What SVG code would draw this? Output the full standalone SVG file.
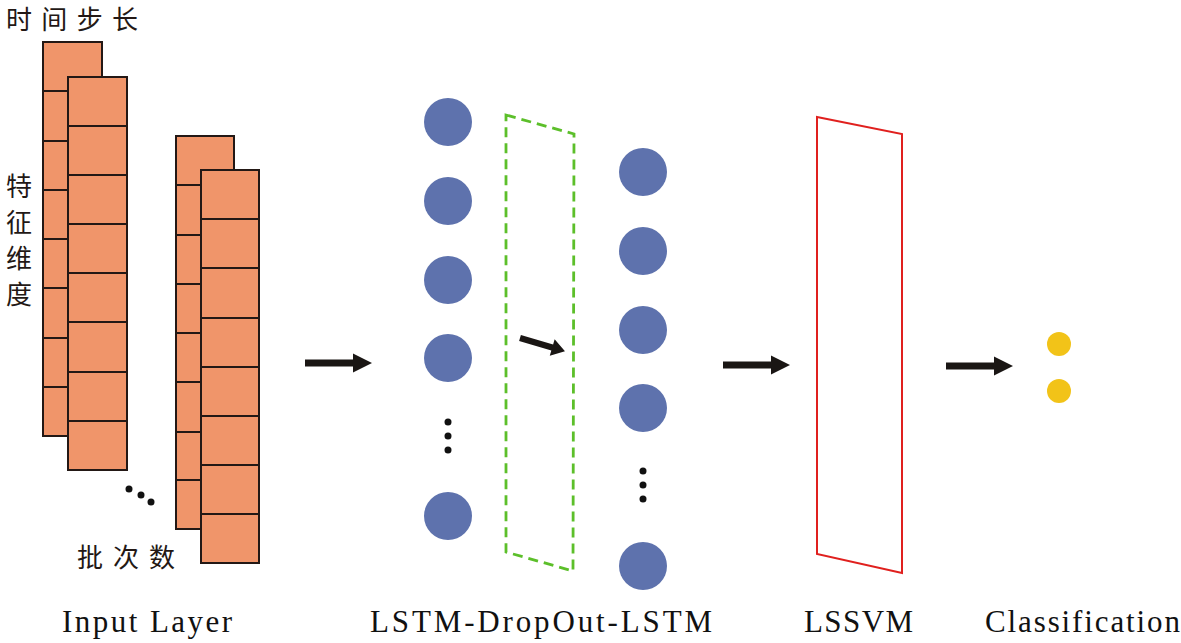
<svg xmlns="http://www.w3.org/2000/svg" width="1181" height="643" viewBox="0 0 1181 643">
<defs>
<style>
.cell{fill:#f0956a;stroke:#231815;stroke-width:2}
.line{stroke:#231815;stroke-width:2}
.neuron{fill:#5e72ad}
.dot{fill:#111}
.out{fill:#f2c318}
.cjk{font-family:"Noto Sans CJK SC",sans-serif;font-size:26px;fill:#231815}
.lbl{font-family:"Liberation Serif",serif;font-size:31px;fill:#111}
.arrow{fill:#1a1614}
</style>
<path id="arr" d="M0,-3.5 H48 V-9.5 L67,0 L48,9.5 V3.5 H0 Z"/>
</defs>
<rect width="1181" height="643" fill="#fff"/>

<g id="input-layer">
  <g id="stack1-back">
    <rect class="cell" x="43" y="42" width="59" height="394"/>
    <path class="line" d="M43,91H102M43,141H102M43,190H102M43,239H102M43,288H102M43,338H102M43,387H102"/>
  </g>
  <g id="stack1-front">
    <rect class="cell" x="68" y="77" width="59" height="393"/>
    <path class="line" d="M68,126H127M68,175H127M68,224H127M68,273H127M68,322H127M68,372H127M68,421H127"/>
  </g>
  <g id="stack2-back">
    <rect class="cell" x="176" y="136" width="58" height="393"/>
    <path class="line" d="M176,185H234M176,235H234M176,284H234M176,333H234M176,382H234M176,432H234M176,480H234"/>
  </g>
  <g id="stack2-front">
    <rect class="cell" x="201" y="170" width="58" height="393"/>
    <path class="line" d="M201,219H259M201,268H259M201,318H259M201,367H259M201,416H259M201,465H259M201,514H259"/>
  </g>
  <g id="batch-dots">
    <circle class="dot" cx="129" cy="489" r="3.5"/>
    <circle class="dot" cx="141" cy="495" r="3.5"/>
    <circle class="dot" cx="151" cy="502" r="3.5"/>
  </g>
  <text class="cjk" x="6" y="29" textLength="132" lengthAdjust="spacing">时间步长</text>
  <text class="cjk" x="19" y="173" style="writing-mode:vertical-rl;letter-spacing:10px">特征维度</text>
  <text class="cjk" x="77" y="567" font-size="27" textLength="98" lengthAdjust="spacing">批次数</text>
  <text class="lbl" x="62" y="632" textLength="170" lengthAdjust="spacing">Input Layer</text>
</g>

<g id="lstm1">
  <circle class="neuron" cx="448" cy="122" r="24"/>
  <circle class="neuron" cx="448" cy="201" r="24"/>
  <circle class="neuron" cx="448" cy="280" r="24"/>
  <circle class="neuron" cx="448" cy="358" r="24"/>
  <circle class="dot" cx="448" cy="422" r="3.5"/>
  <circle class="dot" cx="448" cy="436" r="3.5"/>
  <circle class="dot" cx="448" cy="450" r="3.5"/>
  <circle class="neuron" cx="448" cy="516" r="24"/>
</g>

<g id="dropout">
  <polygon points="506,115 574,134 573,571 506,552" fill="none" stroke="#5cbf2a" stroke-width="2.8" stroke-dasharray="10,6"/>
</g>

<g id="lstm2">
  <circle class="neuron" cx="643" cy="172" r="24"/>
  <circle class="neuron" cx="643" cy="251" r="24"/>
  <circle class="neuron" cx="643" cy="330" r="24"/>
  <circle class="neuron" cx="643" cy="408" r="24"/>
  <circle class="dot" cx="643" cy="471" r="3.5"/>
  <circle class="dot" cx="643" cy="485" r="3.5"/>
  <circle class="dot" cx="643" cy="499" r="3.5"/>
  <circle class="neuron" cx="643" cy="566" r="24"/>
</g>
<text class="lbl" x="370" y="632" textLength="342" lengthAdjust="spacing">LSTM-DropOut-LSTM</text>

<g id="lssvm">
  <polygon points="817,117 902,134 902,573 817,554" fill="none" stroke="#e0201e" stroke-width="2"/>
  <text class="lbl" x="804" y="632" textLength="109" lengthAdjust="spacing">LSSVM</text>
</g>

<g id="classification">
  <circle class="out" cx="1059" cy="344" r="12"/>
  <circle class="out" cx="1059" cy="391" r="12"/>
  <text class="lbl" x="985" y="632" textLength="195" lengthAdjust="spacing">Classification</text>
</g>

<g id="connectors" class="arrow">
  <use href="#arr" transform="translate(305,363)"/>
  <use href="#arr" transform="translate(520,338) rotate(16.5) scale(0.7,0.9)"/>
  <use href="#arr" transform="translate(723,365)"/>
  <use href="#arr" transform="translate(946,366)"/>
</g>
</svg>
